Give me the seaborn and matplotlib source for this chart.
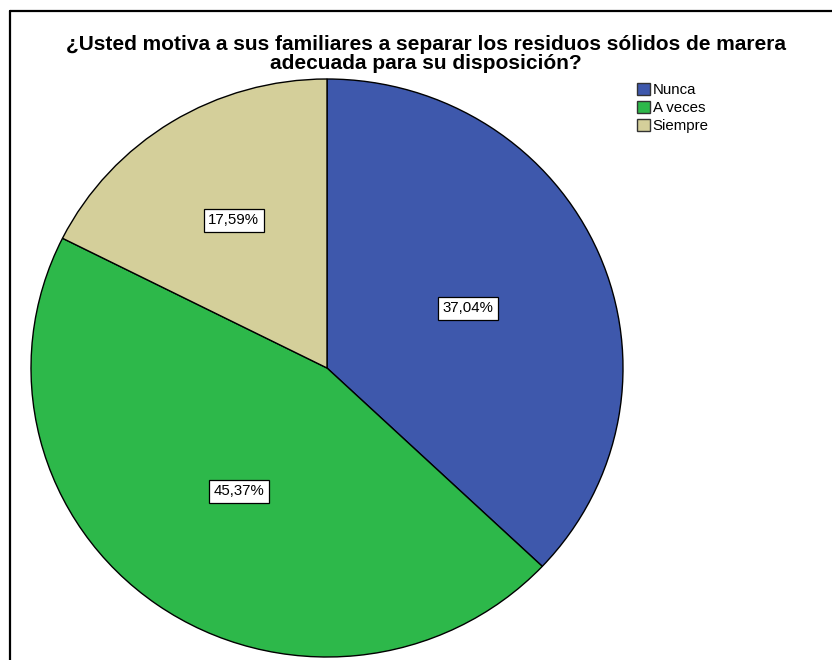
import numpy as np
import matplotlib
matplotlib.use("Agg")
import matplotlib.pyplot as plt
from matplotlib.lines import Line2D
import seaborn as sns

categories = ["Nunca", "A veces", "Siempre"]
percentages = [37.04, 45.37, 17.59]
colors = ["#3E58AC", "#2DB84A", "#D4CF9A"]
title = ("¿Usted motiva a sus familiares a separar los residuos sólidos de marera\n"
         "adecuada para su disposición?")

sns.set_theme(style="white")
plt.rcParams["font.family"] = ["Liberation Sans", "DejaVu Sans"]
plt.rcParams["text.color"] = "black"

W, H = 832, 660
fig = plt.figure(figsize=(W / 100, H / 100), dpi=100)
fig.patch.set_facecolor("white")

# Axes placed so the pie spans the main chart area
left, right, top, bottom = 31, 623, 79, 657
ax = fig.add_axes([left / W, 1 - bottom / H, (right - left) / W, (bottom - top) / H])

wedges, texts = ax.pie(
    percentages,
    colors=colors,
    startangle=90,
    counterclock=False,
    wedgeprops=dict(edgecolor="black", linewidth=1.0),
)
ax.set_aspect("auto")
ax.set_xlim(-1, 1)
ax.set_ylim(-1, 1)
ax.axis("off")

# Percentage labels in boxed text at each wedge's mid angle
label_dist = [0.52, 0.52, 0.6]
for w, p, d in zip(wedges, percentages, label_dist):
    mid = np.deg2rad((w.theta1 + w.theta2) / 2)
    ax.text(d * np.cos(mid), d * np.sin(mid), f"{p:.2f}%".replace(".", ","),
            ha="center", va="center", fontsize=10.8, color="black",
            bbox=dict(boxstyle="square,pad=0.3", facecolor="white",
                      edgecolor="black", linewidth=0.9))

fig.text(426 / W, 1 - 54 / H, title, ha="center", va="center", color="black",
         fontsize=15, fontweight="bold", linespacing=0.95)

handles = [plt.Rectangle((0, 0), 1, 1, facecolor=c, edgecolor="#333333", linewidth=1.0)
           for c in colors]
fig.legend(handles, categories, loc="upper left",
           bbox_to_anchor=(637 / W, 1 - 83 / H), frameon=False,
           fontsize=10.8, handlelength=0.85, handleheight=0.85, handletextpad=0.2,
           labelspacing=0.25, borderpad=0, borderaxespad=0, labelcolor="black")

# Chart frame lines along top and left
fig.add_artist(Line2D([10 / W, 1], [1 - 11 / H, 1 - 11 / H],
                      transform=fig.transFigure, color="black", linewidth=1.6))
fig.add_artist(Line2D([10 / W, 10 / W], [0, 1 - 11 / H],
                      transform=fig.transFigure, color="black", linewidth=1.6))

fig.savefig("out.png", dpi=100)
